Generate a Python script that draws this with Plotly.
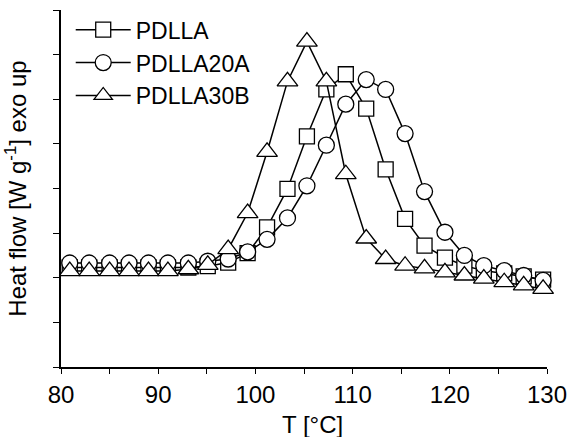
import plotly.graph_objects as go

# Temperature of each sampled point, °C
temperature = [80.9, 82.9, 85.0, 87.0, 89.0, 91.0, 93.1, 95.1, 97.2, 99.2,
               101.2, 103.3, 105.3, 107.3, 109.3, 111.4, 113.4, 115.4, 117.4,
               119.5, 121.5, 123.5, 125.6, 127.6, 129.6]

# Heat flow curves (arbitrary offset units, exo up)
pdlla = [2.23, 2.23, 2.23, 2.23, 2.23, 2.23, 2.23, 2.26, 2.34, 2.55,
         3.13, 3.99, 5.17, 6.22, 6.56, 5.79, 4.43, 3.32, 2.72,
         2.45, 2.27, 2.16, 2.10, 2.03, 1.96]
pdlla20a = [2.33, 2.33, 2.33, 2.33, 2.33, 2.33, 2.33, 2.37, 2.42, 2.58,
            2.86, 3.34, 4.06, 4.97, 5.89, 6.44, 6.22, 5.23, 3.93,
            3.02, 2.50, 2.27, 2.16, 2.05, 1.94]
pdlla30b = [2.15, 2.15, 2.15, 2.15, 2.15, 2.15, 2.19, 2.29, 2.64, 3.45,
            4.82, 6.40, 7.29, 6.40, 4.32, 2.88, 2.42, 2.27, 2.21,
            2.12, 2.05, 1.98, 1.90, 1.83, 1.75]

series_names = ["PDLLA", "PDLLA20A", "PDLLA30B"]
x_tick_values = [80, 90, 100, 110, 120, 130]

FONT = "Liberation Sans, Arial, sans-serif"

fig = go.Figure()
styles = [("square", 15), ("circle", 16), ("triangle-up", 18)]
for name, values, (symbol, size) in zip(series_names, [pdlla, pdlla20a, pdlla30b], styles):
    fig.add_trace(go.Scatter(
        x=temperature, y=values, name=name, mode="lines+markers",
        line=dict(color="black", width=1.5),
        marker=dict(symbol=symbol, size=size, color="white",
                    line=dict(color="black", width=1.3)),
        cliponaxis=False,
    ))

fig.update_layout(
    width=568, height=437,
    margin=dict(l=61, r=21, t=8, b=70),
    plot_bgcolor="white", paper_bgcolor="white",
    font=dict(family=FONT, size=24, color="black"),
    showlegend=True,
    legend=dict(x=0.02, y=1.005, xanchor="left", yanchor="top",
                bgcolor="rgba(0,0,0,0)", font=dict(size=23),
                itemwidth=55, tracegroupgap=0),
    xaxis=dict(
        range=[80, 130], tickvals=x_tick_values, automargin=False,
        ticks="outside", ticklen=5, tickwidth=1.3, tickcolor="black",
        minor=dict(dtick=5, ticks="outside", ticklen=5, tickwidth=1.3, tickcolor="black"),
        showline=True, linecolor="black", linewidth=1.5,
        showgrid=False, zeroline=False,
        tickfont=dict(size=24),
    ),
    yaxis=dict(
        range=[0, 8], dtick=1, tick0=0, automargin=False,
        ticks="outside", ticklen=6, tickwidth=1.3, tickcolor="black",
        showticklabels=False,
        showline=True, linecolor="black", linewidth=1.5,
        showgrid=False, zeroline=False,
        title=dict(text="Heat flow [W g<sup>-1</sup>] exo up", font=dict(size=24), standoff=20),
    ),
    annotations=[dict(
        text="T [°C]", xref="paper", yref="paper", x=0.518, y=0,
        xanchor="center", yanchor="top", yshift=-42, showarrow=False,
        font=dict(size=24),
    )],
)

fig.write_html("out.html")
